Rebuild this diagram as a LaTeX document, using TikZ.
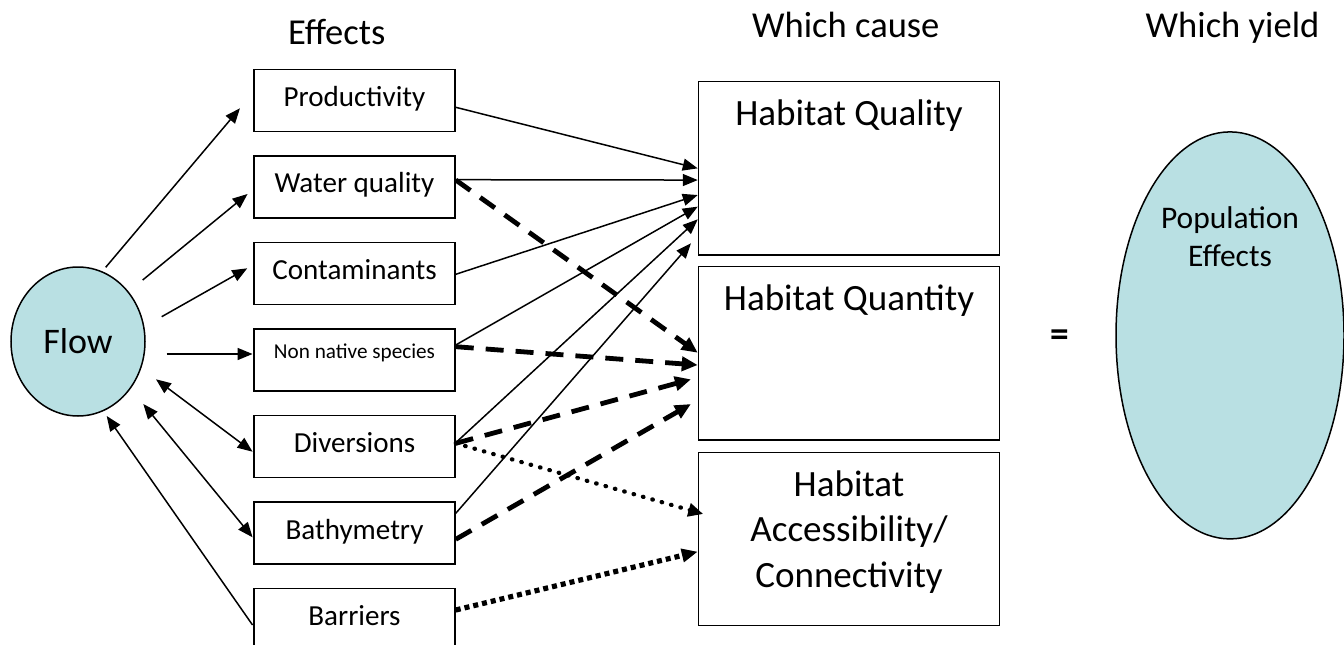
\documentclass[tikz,border=0pt]{standalone}
\usepackage{fontspec}
\setmainfont{Carlito}
\usetikzlibrary{arrows.meta,calc,shapes.geometric}
\newdimen\pxu \pxu=0.75pt
\definecolor{aqua}{RGB}{185,224,227}
\begin{document}
\begin{tikzpicture}[x=0.75pt,y=-0.75pt,
  effbox/.style={draw, line width=1.125pt, minimum width=150.75pt, minimum height=46.5pt, inner sep=0pt,
    font=\fontsize{21.8}{26}\selectfont, text height=14.25pt, text depth=5.25pt},
  habbox/.style={draw, line width=1.125pt, inner sep=0pt, font=\fontsize{27.8}{34.1}\selectfont},
  hdr/.style={anchor=base, inner sep=0pt, font=\fontsize{27.4}{33}\selectfont},
  blob/.style={ellipse, draw, fill=aqua, line width=1.125pt, inner sep=0pt},
  thinarr/.style={line width=1.125pt, -{Triangle[length=11.25pt,width=9pt]}},
  biarr/.style={line width=1.125pt, {Triangle[length=11.25pt,width=9pt]}-{Triangle[length=11.25pt,width=9pt]}},
  dasharr/.style={line width=3.6pt, dash pattern=on 13.5pt off 9pt, -{Triangle[length=12pt,width=10.5pt]}},
  dotarr/.style={line width=3.2pt, line cap=round, dash pattern=on 0.4pt off 6.9pt, -{Triangle[length=11.25pt,width=9.75pt]}},
  sqarr/.style={line width=3.9pt, dash pattern=on 3.75pt off 3pt, -{Triangle[length=12pt,width=9.75pt]}}
]
\useasboundingbox (0,0) rectangle (1344,645);
\fill[white] (0,0) rectangle (1344,645);

% headers
\node[hdr] (h1) at (336.7,44.3) {Effects};
\node[hdr] (h2) at (845.8,37.3) {Which cause};
\node[hdr] (h3) at (1232.5,38) {Which yield};

% flow
\node[blob, minimum width=100.5pt, minimum height=111.75pt, font=\fontsize{27}{32}\selectfont] (flow) at (78,341.5) {Flow};

% effect boxes
\node[effbox] (prod) at (354.5,100.3) {Productivity};
\node[effbox] (water) at (354.5,187) {Water quality};
\node[effbox] (cont) at (354.5,273.3) {Contaminants};
\node[effbox, font=\fontsize{15.9}{19}\selectfont, text height=10.5pt, text depth=13.5pt] (nn) at (354.5,360.2) {Non native species};
\node[effbox] (div) at (354.5,446.5) {Diversions};
\node[effbox] (bath) at (354.5,533.2) {Bathymetry};
\node[effbox] (bar) at (354.5,619.3) {Barriers};

% habitat boxes
\node[habbox] (hq) at (849,168.35) {\parbox[c][130pt][t]{225.75pt}{\centering\rule{0pt}{33pt}Habitat Quality}};
\node[habbox] (hqt) at (849,353.35) {\parbox[c][130pt][t]{225.75pt}{\centering\rule{0pt}{33pt}Habitat Quantity}};
\node[habbox] (acc) at (849,539) {\parbox[c][130pt][t]{225.75pt}{\centering\rule{0pt}{33pt}Habitat\\Accessibility/\\Connectivity}};

% equals and population
\node[inner sep=0pt, font=\fontsize{28}{32}\selectfont\bfseries] (eq) at (1059.5,338) {=};
\node[blob, minimum width=171pt, minimum height=305.25pt, font=\fontsize{23.6}{28.8}\selectfont] (pop) at (1230,335.4)
  {\parbox[c][195pt][t]{120pt}{\centering\rule{0pt}{17.2pt}Population\\Effects}};

% flow connectors
\draw[thinarr] ($(flow.center)+(27.7,-74.2)$) -- ($(prod.west)+(-13.3,8)$);
\draw[thinarr] ($(flow.center)+(64.7,-61.5)$) -- ($(water.west)+(-5.7,7)$);
\draw[thinarr] ($(flow.center)+(83.7,-24.8)$) -- ($(cont.west)+(-6,-5)$);
\draw[thinarr] ($(flow.center)+(88.7,12.5)$) -- ($(nn.west)+(-0.7,-6.2)$);
\draw[biarr] ($(flow.center)+(78,37.8)$) -- ($(div.west)+(-0.7,5.2)$);
\draw[biarr] ($(flow.center)+(65.3,62.5)$) -- ($(bath.west)+(-0.7,4.1)$);
\draw[thinarr] ($(bar.west)+(-0.7,5.7)$) -- ($(flow.center)+(28.7,74.5)$);

% to habitat quality
\draw[thinarr] ($(prod.east)+(0,7)$) -- (hq.west);
\draw[thinarr] ($(water.east)+(0,-7.3)$) -- ($(hq.west)+(0,11.7)$);
\draw[thinarr] ($(cont.east)+(0,1)$) -- ($(hq.west)+(0,26.7)$);
\draw[thinarr] ($(nn.east)+(0,-15.2)$) -- ($(hq.west)+(0,38.3)$);
\draw[thinarr] ($(div.east)+(0,-3.8)$) -- ($(hq.west)+(0,51)$);
\draw[thinarr] ($(bath.east)+(0,-19.9)$) -- ($(hq.west)+(-6.8,75)$);

% to habitat quantity
\draw[dasharr] ($(water.east)+(0,-7)$) -- ($(hqt.west)+(0,-0.6)$);
\draw[dasharr] ($(nn.east)+(0,-13.5)$) -- ($(hqt.west)+(0,11.7)$);
\draw[dasharr] ($(div.east)+(0,-3.2)$) -- ($(hqt.west)+(-6.8,26)$);
\draw[dasharr] ($(bath.east)+(0,6.1)$) -- ($(hqt.west)+(-6.8,50.7)$);

% to accessibility
\draw[dotarr] ($(div.east)+(0,-3.2)$) -- ($(acc.west)+(5.5,-25)$);
\draw[sqarr] ($(bar.east)+(0,-9.3)$) -- ($(acc.west)+(0,12.7)$);
\end{tikzpicture}
\end{document}
